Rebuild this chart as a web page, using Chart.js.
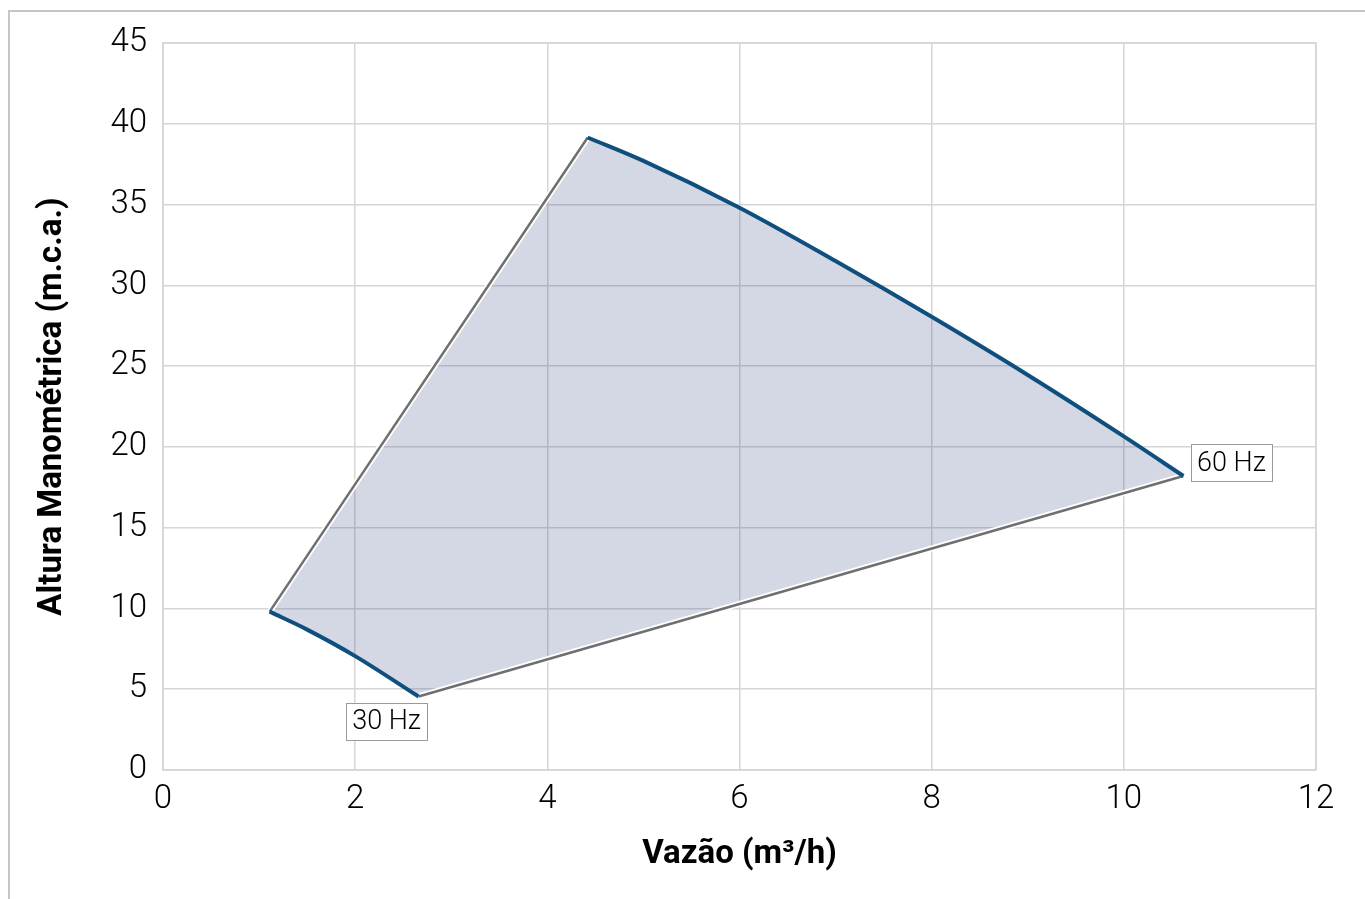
<!DOCTYPE html>
<html>
<head>
<meta charset="utf-8">
<script src="https://cdn.jsdelivr.net/npm/chart.js@4.4.1/dist/chart.umd.min.js"></script>
<style>
  html, body { margin: 0; padding: 0; background: #fff; }
  #moldura { position: absolute; left: 8px; top: 10px; width: 1400px; height: 900px;
             border-left: 2px solid #c6c6c6; border-top: 2px solid #c6c6c6; }
  #wrap { position: absolute; left: 0; top: 0; width: 1365px; height: 899px; }
</style>
</head>
<body>
<div id="moldura"></div>
<div id="wrap"><canvas id="grafico"></canvas></div>
<script>
// curva 60 Hz (limite superior)
const q60 = [4.42, 5, 6, 7, 8, 9, 10, 10.62];
const h60 = [39.15, 37.7, 34.8, 31.5, 28.05, 24.45, 20.65, 18.2];
// curva 30 Hz (limite inferior)
const q30 = [1.11, 1.5, 2, 2.66];
const h30 = [9.8, 8.69, 7.05, 4.55];

const xTicks = [0, 2, 4, 6, 8, 10, 12];
const yTicks = [0, 5, 10, 15, 20, 25, 30, 35, 40, 45];

const rotulos = ['30 Hz', '60 Hz'];

const FONTE = 'Roboto, sans-serif';

const pts = (qs, hs) => qs.map((q, i) => ({ x: q, y: hs[i] }));
const curva60 = pts(q60, h60);
const curva30 = pts(q30, h30);
const ini30 = curva30[0], fim30 = curva30[curva30.length - 1];
const ini60 = curva60[0], fim60 = curva60[curva60.length - 1];

const linhaEsq = [ini30, ini60];
const linhaInf = [fim30, fim60];
const contornoSup = [ini30].concat(curva60);
const contornoInf = curva30.concat([fim60]);

const AZUL = '#0f4f7e';
const CINZA = '#6f6f6f';

// rótulos com caixa junto às extremidades
const rotuloPlugin = {
  id: 'rotulos',
  afterDatasetsDraw(chart) {
    const { ctx, scales: { x, y } } = chart;
    const itens = [
      { txt: rotulos[0], p: fim30, dx: -32, dy: 25 },
      { txt: rotulos[1], p: fim60, dx: 48, dy: -13 }
    ];
    ctx.save();
    ctx.font = '300 27px ' + FONTE;
    ctx.textAlign = 'center';
    ctx.textBaseline = 'middle';
    itens.forEach((it) => {
      const cx = x.getPixelForValue(it.p.x) + it.dx;
      const cy = y.getPixelForValue(it.p.y) + it.dy;
      const w = 81;
      const h = 37;
      ctx.fillStyle = '#fff';
      ctx.fillRect(cx - w / 2, cy - h / 2, w, h);
      ctx.strokeStyle = '#9a9a9a';
      ctx.lineWidth = 1;
      ctx.strokeRect(Math.round(cx - w / 2) + 0.5, Math.round(cy - h / 2) + 0.5, w, h);
      ctx.fillStyle = '#000';
      ctx.fillText(it.txt, cx, cy + 1);
    });
    ctx.restore();
  }
};

const base = { pointRadius: 0, pointHoverRadius: 0, showLine: true, tension: 0 };
const suave = { cubicInterpolationMode: 'monotone', tension: 0.4 };

new Chart(document.getElementById('grafico'), {
  type: 'line',
  data: {
    datasets: [
      Object.assign({}, base, suave, { label: '60 Hz', data: curva60, borderColor: AZUL, borderWidth: 4, fill: false, order: 0 }),
      Object.assign({}, base, suave, { label: '30 Hz', data: curva30, borderColor: AZUL, borderWidth: 4, fill: false, order: 0 }),
      Object.assign({}, base, { label: 'esq', data: linhaEsq, borderColor: CINZA, borderWidth: 2.5, fill: false, order: 1 }),
      Object.assign({}, base, { label: 'inf', data: linhaInf, borderColor: CINZA, borderWidth: 2.5, fill: false, order: 1 }),
      Object.assign({}, base, { label: 'esqB', data: linhaEsq, borderColor: '#ffffff', borderWidth: 6, fill: false, order: 2 }),
      Object.assign({}, base, { label: 'infB', data: linhaInf, borderColor: '#ffffff', borderWidth: 6, fill: false, order: 2 }),
      Object.assign({}, base, { label: 'sup', data: contornoSup, borderWidth: 0, borderColor: 'rgba(0,0,0,0)', backgroundColor: 'rgba(40,60,120,0.2)', fill: '+1', order: 3 }),
      Object.assign({}, base, { label: 'infF', data: contornoInf, borderWidth: 0, borderColor: 'rgba(0,0,0,0)', fill: false, order: 3 })
    ]
  },
  options: {
    responsive: true,
    maintainAspectRatio: false,
    animation: false,
    layout: { padding: { top: 43, right: 49, left: 0, bottom: 0 } },
    plugins: { legend: { display: false }, tooltip: { enabled: false } },
    scales: {
      x: {
        type: 'linear', min: 0, max: 12,
        afterFit(s) { s.height = 129; },
        afterBuildTicks(s) { s.ticks = xTicks.map((v) => ({ value: v })); },
        ticks: { color: '#000', padding: 10, font: { family: FONTE, size: 33, weight: 300 } },
        grid: { color: '#d6d6d6', lineWidth: 1.5, drawTicks: false },
        border: { color: '#d6d6d6', width: 1.5 },
        title: { display: true, text: 'Vazão (m³/h)', color: '#000', padding: { top: 0, bottom: 24 },
                 font: { family: FONTE, size: 33, weight: 'bold' } }
      },
      y: {
        type: 'linear', min: 0, max: 45,
        afterFit(s) { s.width = 163; },
        afterBuildTicks(s) { s.ticks = yTicks.map((v) => ({ value: v })); },
        ticks: { color: '#000', padding: 16, font: { family: FONTE, size: 33, weight: 300 } },
        grid: { color: '#d6d6d6', lineWidth: 1.5, drawTicks: false },
        border: { color: '#d6d6d6', width: 1.5 },
        title: { display: true, text: 'Altura Manométrica (m.c.a.)', color: '#000', padding: { top: 33, bottom: 0 },
                 font: { family: FONTE, size: 33, weight: 'bold' } }
      }
    }
  },
  plugins: [rotuloPlugin, {
    id: 'bordaArea',
    afterDraw(chart) {
      const { ctx, chartArea: a } = chart;
      ctx.save();
      ctx.strokeStyle = '#d6d6d6';
      ctx.lineWidth = 1.5;
      ctx.strokeRect(a.left, a.top, a.right - a.left, a.bottom - a.top);
      ctx.restore();
    }
  }]
});
</script>
</body>
</html>
